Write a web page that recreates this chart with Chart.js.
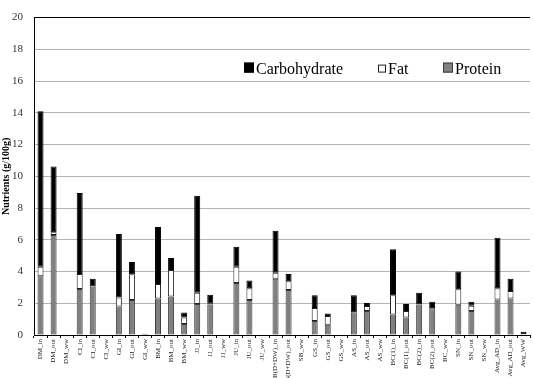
<!DOCTYPE html>
<html>
<head>
<meta charset="utf-8">
<script src="https://cdn.jsdelivr.net/npm/chart.js@4.4.1/dist/chart.umd.min.js"></script>
<style>
html,body{margin:0;padding:0;background:#fff;}
#wrap{width:533px;height:378px;position:relative;}
</style>
</head>
<body>
<div id="wrap"><canvas id="c" width="533" height="378"></canvas></div>
<script>
const categories = ["DM_in","DM_out","DM_ww","CI_in","CI_out","CI_ww","GI_in","GI_out","GI_ww","BM_in","BM_out","BM_ww","JJ_in","JJ_out","JJ_ww","JU_in","JU_out","JU_ww","SB(D+DW)_in","SB(D+DW)_out","SB_ww","GS_in","GS_out","GS_ww","AS_in","AS_out","AS_ww","BC(1)_in","BC(1)_out","BC(2)_in","BC(2)_out","BC_ww","SN_in","SN_out","SN_ww","Avg_AD_in","Avg_AD_out","Avg_WW"];
const protein = [3.7, 6.3, 0, 2.9, 3.05, 0, 1.8, 2.2, 0, 2.3, 2.43, 0.7, 1.96, 1.92, 0, 3.28, 2.2, 0, 3.55, 2.84, 0, 0.88, 0.64, 0, 1.43, 1.51, 0, 1.29, 1.11, 1.92, 1.62, 0, 1.9, 1.51, 0, 2.24, 2.3, 0.05];
const fat = [0.6, 0.17, 0, 0.95, 0, 0, 0.57, 1.63, 0.08, 0.92, 1.67, 0.41, 0.71, 0.05, 0, 1.02, 0.74, 0, 0.38, 0.54, 0, 0.82, 0.55, 0, 0, 0.31, 0, 1.22, 0.4, 0, 0.14, 0, 0.98, 0.33, 0, 0.7, 0.47, 0];
const carb = [9.8, 4.15, 0, 5.1, 0.5, 0, 4.0, 0.77, 0, 3.58, 0.75, 0.3, 6.1, 0.56, 0, 1.26, 0.5, 0, 2.64, 0.47, 0, 0.81, 0.16, 0, 1.08, 0.2, 0, 2.9, 0.45, 0.75, 0.34, 0, 1.12, 0.26, 0, 3.19, 0.78, 0.15];
const yTicks = [0, 2, 4, 6, 8, 10, 12, 14, 16, 18, 20];
const yTitle = "Nutrients (g/100g)";
const legendOrder = ["Carbohydrate", "Fat", "Protein"];

const bw = c => (c.raw ? 1 : 0);

const innerLegend = {
  id: 'innerLegend',
  afterDraw(chart) {
    const ctx = chart.ctx;
    const a = chart.chartArea;
    const y = a.top + 56;
    const items = [
      {x: a.left + 210},
      {x: a.left + 344},
      {x: a.left + 409}
    ];
    ctx.save();
    ctx.font = '16px "Liberation Serif", "Times New Roman", serif';
    ctx.textBaseline = 'alphabetic';
    legendOrder.forEach((name, i) => {
      const ds = chart.data.datasets.find(d => d.label === name);
      const it = items[i];
      const s = (name === 'Fat') ? 8 : 10;
      const by = y - 1 - s;
      ctx.fillStyle = ds.backgroundColor;
      ctx.fillRect(it.x, by, s, s);
      ctx.strokeStyle = ds.borderColor;
      ctx.lineWidth = 1;
      ctx.strokeRect(it.x + 0.5, by + 0.5, s - 1, s - 1);
      ctx.fillStyle = '#000';
      ctx.fillText(name, it.x + s + 2, y);
    });
    ctx.restore();
  }
};

new Chart(document.getElementById('c'), {
  type: 'bar',
  data: {
    labels: categories,
    datasets: [
      {label: 'Protein', data: protein, backgroundColor: '#808080', borderColor: '#3a3a3a', borderWidth: bw, borderSkipped: false},
      {label: 'Fat', data: fat, backgroundColor: '#ffffff', borderColor: '#222222', borderWidth: bw, borderSkipped: false},
      {label: 'Carbohydrate', data: carb, backgroundColor: '#000000', borderColor: '#000000', borderWidth: bw, borderSkipped: false}
    ]
  },
  options: {
    responsive: false,
    animation: false,
    devicePixelRatio: 1,
    layout: {padding: {top: 7, right: 1, left: 0, bottom: 0}},
    datasets: {bar: {barPercentage: 0.46, categoryPercentage: 1}},
    plugins: {legend: {display: false}, tooltip: {enabled: false}},
    scales: {
      x: {
        stacked: true,
        afterFit: s => { s.height = 43; },
        grid: {display: true, drawOnChartArea: false, drawTicks: true, tickLength: 3, color: '#000', offset: true},
        border: {color: '#000', width: 1},
        ticks: {
          autoSkip: false, maxRotation: 90, minRotation: 90, padding: 1,
          color: '#222',
          font: {family: '"Liberation Serif", "Times New Roman", serif', size: 7}
        }
      },
      y: {
        stacked: true,
        min: 0, max: 20,
        afterBuildTicks: s => { s.ticks = yTicks.map(v => ({value: v})); },
        afterFit: s => { s.width = 34; },
        grid: {color: c => (c.tick && c.tick.value === 20 ? '#000' : '#b4b4b4'), drawTicks: false, lineWidth: 1},
        border: {color: '#000', width: 1},
        title: {display: true, text: yTitle, padding: {top: 0, bottom: 0}, color: '#000',
          font: {family: '"Liberation Serif", "Times New Roman", serif', size: 10, weight: 'bold'}},
        ticks: {padding: 11, color: '#333', font: {family: '"Liberation Serif", "Times New Roman", serif', size: 11}}
      }
    }
  },
  plugins: [innerLegend]
});
</script>
</body>
</html>
